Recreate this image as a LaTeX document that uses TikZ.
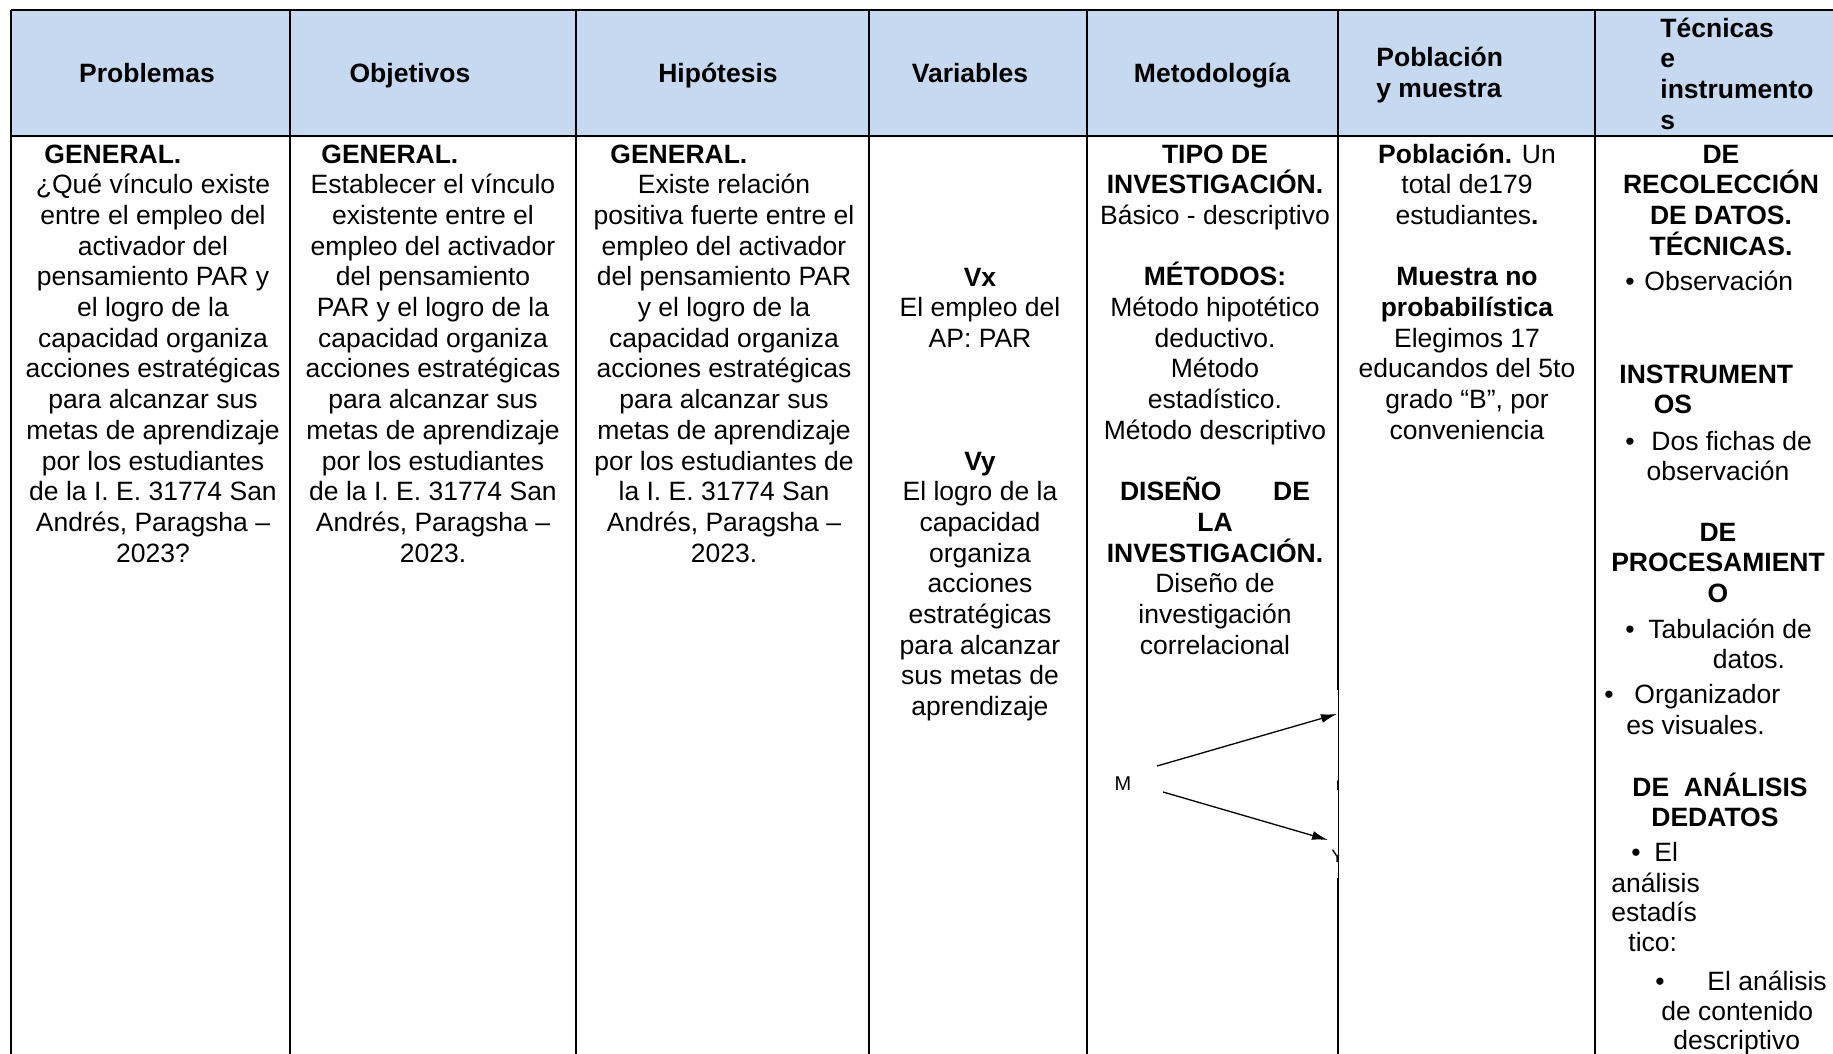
\documentclass[tikz,border=0pt]{standalone}
\usepackage{fontspec}
\setmainfont{Liberation Sans}
\usetikzlibrary{arrows.meta}

\definecolor{headblue}{RGB}{198,217,241}
\newcommand{\cellfont}{\fontsize{13.25pt}{15.35pt}\selectfont}
\newcommand{\emptyrow}{\\[15.35pt]}

\begin{document}
\begin{tikzpicture}[x=0.5pt, y=-0.5pt,
  cell/.style={font=\cellfont, align=center, anchor=base, inner sep=0pt},
  lcell/.style={font=\cellfont, align=left, anchor=base west, inner sep=0pt},
  head/.style={cell, font=\cellfont\bfseries},
  rule/.style={line width=1pt},
  arr/.style={->, >={Latex[length=8pt,width=4.5pt]}, line width=0.65pt}]

\useasboundingbox (0,0) rectangle (1833,1054);

% Header background and table rules
\fill[headblue] (11,10) rectangle (1833,136);
\draw[rule] (11,10) -- (1833,10);
\draw[rule] (11,136) -- (1833,136);
\foreach \x in {11,290,576,869,1087,1595}
  \draw[rule] (\x,10) -- (\x,1054);
\draw[rule] (1338,10) -- (1338,690);
\draw[rule] (1338,878) -- (1338,1054);
\draw[line width=0.5pt] (1338,690) -- (1338,878);

% Header row (multi-line nodes sit on their last baseline)
\node[head] (hprob) at (147,83) {Problemas};
\node[head] (hobj) at (410,83) {Objetivos};
\node[head] (hhip) at (718,83) {Hipótesis};
\node[head] (hvar) at (970,83) {Variables};
\node[head] (hmet) at (1212,83) {Metodología};
\node[lcell, font=\cellfont\bfseries] (hpob) at (1376,97.5) {Población\\y muestra};
\node[lcell, font=\cellfont\bfseries] (htec) at (1660,129.1) {Técnicas\\e\\instrumento\\s};

% Problemas, objetivos, hipotesis
\node[lcell, font=\cellfont\bfseries] (gprob) at (44,163) {GENERAL.};
\node[lcell, font=\cellfont\bfseries] (gobj) at (321,163) {GENERAL.};
\node[lcell, font=\cellfont\bfseries] (ghip) at (610,163) {GENERAL.};

\node[cell] (prob) at (153,562.1) {¿Qué vínculo existe\\entre el empleo del\\activador del\\pensamiento PAR y\\el logro de la\\capacidad organiza\\acciones estratégicas\\para alcanzar sus\\metas de aprendizaje\\por los estudiantes\\de la I. E. 31774 San\\Andrés, Paragsha –\\2023?};
\node[cell] (obj) at (433,562.1) {Establecer el vínculo\\existente entre el\\empleo del activador\\del pensamiento\\PAR y el logro de la\\capacidad organiza\\acciones estratégicas\\para alcanzar sus\\metas de aprendizaje\\por los estudiantes\\de la I. E. 31774 San\\Andrés, Paragsha –\\2023.};
\node[cell] (hip) at (724,562.1) {Existe relación\\positiva fuerte entre el\\empleo del activador\\del pensamiento PAR\\y el logro de la\\capacidad organiza\\acciones estratégicas\\para alcanzar sus\\metas de aprendizaje\\por los estudiantes de\\la I. E. 31774 San\\Andrés, Paragsha –\\2023.};

% Variables
\node[cell] (vx) at (980,347.4) {\textbf{Vx}\\El empleo del\\AP: PAR};
\node[cell] (vy) at (980,715.6) {\textbf{Vy}\\El logro de la\\capacidad\\organiza\\acciones\\estratégicas\\para alcanzar\\sus metas de\\aprendizaje};

% Metodologia
\node[cell] (met) at (1215,654.2) {\textbf{TIPO DE}\\\textbf{INVESTIGACIÓN.}\\Básico - descriptivo\emptyrow
  \textbf{MÉTODOS:}\\Método hipotético\\deductivo.\\Método\\estadístico.\\Método descriptivo\emptyrow
  \makebox[95pt][s]{\textbf{DISEÑO}\hfill\textbf{DE}}\\\textbf{LA}\\\textbf{INVESTIGACIÓN.}\\Diseño de\\investigación\\correlacional};

% Design sketch M -> x, M -> y
\node[font=\fontsize{10pt}{11pt}\selectfont, inner sep=0pt] (m) at (1123,784) {M};
\coordinate (m1) at (1157,766);
\coordinate (m2) at (1163,792);
\coordinate (ox) at (1337,714);
\coordinate (oy) at (1328,840);
\draw[arr] (m1) -- (ox);
\draw[arr] (m2) -- (oy);
\begin{scope}
  \clip (1300,700) rectangle (1338,900);
  \node[font=\fontsize{9pt}{10pt}\selectfont, inner sep=0pt, anchor=base west] (rr) at (1335.5,790) {r};
  \node[font=\fontsize{9pt}{10pt}\selectfont, inner sep=0pt, anchor=base west] (yy) at (1331,862) {Y};
\end{scope}

% Poblacion y muestra
\node[cell] (pob) at (1467,439.3) {\textbf{Población.} Un\\total de179\\estudiantes\textbf{.}\emptyrow
  \textbf{Muestra no}\\\textbf{probabilística}\\Elegimos 17\\educandos del 5to\\grado “B”, por\\conveniencia};

% Tecnicas e instrumentos
\node[cell, font=\cellfont\bfseries] (trec) at (1721,255.1) {DE\\RECOLECCIÓN\\DE DATOS.\\TÉCNICAS.};
\node[cell] (b1) at (1630,291) {•};
\node[lcell] (tobs) at (1644,291) {Observación};
\node[lcell, font=\cellfont\bfseries] (tins) at (1619,383) {INSTRUMENT};
\node[cell, font=\cellfont\bfseries] (tos) at (1673,413.5) {OS};
\node[cell] (b2) at (1630,450) {•};
\node[lcell] (tfic) at (1651,450) {Dos fichas de};
\node[cell] (tobs2) at (1718,480) {observación};
\node[cell, font=\cellfont\bfseries] (tpro) at (1718,602.4) {DE\\PROCESAMIENT\\O};
\node[cell] (b3) at (1630,638) {•};
\node[lcell] (ttab) at (1648,638) {Tabulación de};
\node[cell] (tdat) at (1749,668) {datos.};
\node[cell] (b4) at (1609,703) {•};
\node[lcell] (torg) at (1634,703) {Organizador};
\node[lcell] (tvis) at (1626,734) {es visuales.};
\node[lcell, font=\cellfont\bfseries] (tana) at (1632,796) {DE\ \ ANÁLISIS};
\node[lcell, font=\cellfont\bfseries] (tded) at (1651,826) {DEDATOS};
\node[cell] (b5) at (1636,861) {•};
\node[lcell] (tel) at (1654,861) {El};
\node[lcell] (tan) at (1611,892) {análisis};
\node[lcell] (test) at (1611,921) {estadís};
\node[lcell] (ttic) at (1628,951) {tico:};
\node[cell] (b6) at (1660,990) {•};
\node[lcell] (tel2) at (1707,990) {El análisis};
\node[lcell] (tcon) at (1661,1020) {de contenido};
\node[lcell] (tdes) at (1673,1049) {descriptivo};

\end{tikzpicture}
\end{document}
